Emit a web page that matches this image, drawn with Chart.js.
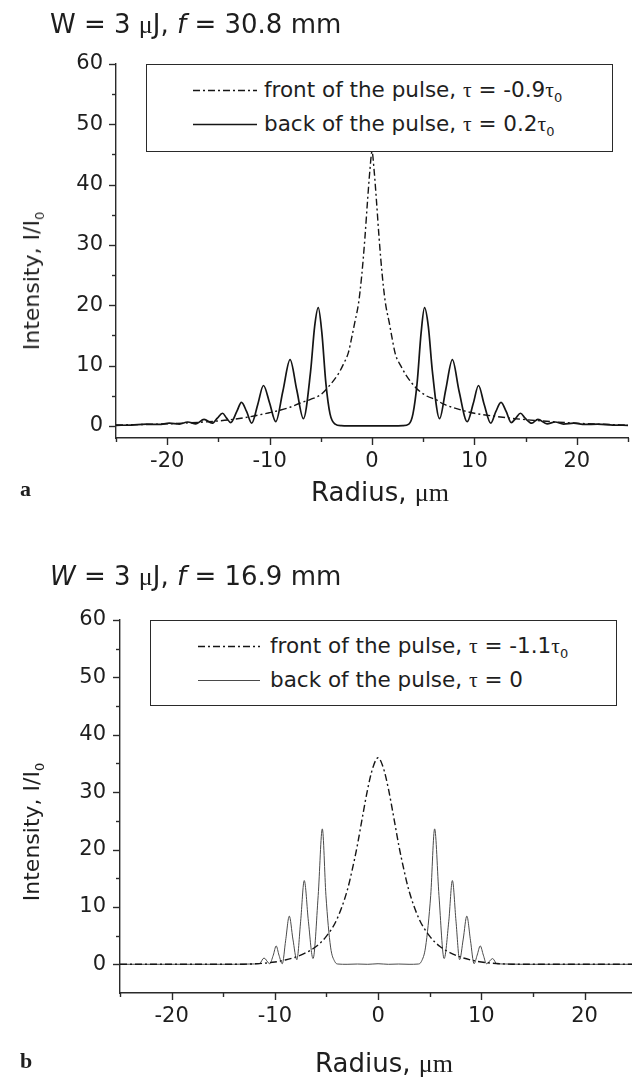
<!DOCTYPE html>
<html><head><meta charset="utf-8">
<script src="https://cdn.jsdelivr.net/npm/chart.js@4.4.0/dist/chart.umd.min.js"></script>
<style>
html,body{margin:0;padding:0;background:#fff;}
body{width:632px;height:1079px;position:relative;overflow:hidden;font-family:"DejaVu Sans",sans-serif;color:#1e1e1e;}
canvas{position:absolute;left:0;}
.t{position:absolute;white-space:nowrap;line-height:1;}
.serif{font-family:"Liberation Serif","DejaVu Serif",serif;}
.legend{position:absolute;border:1.4px solid #2a2a2a;background:#fff;box-sizing:border-box;}
.row{position:absolute;left:0;height:30px;line-height:30px;white-space:nowrap;font-size:21.5px;}
.row svg{position:absolute;top:0;}
.row span.txt{position:absolute;top:0;}
sub{font-size:13px;vertical-align:-5px;line-height:0;}
.ytitle{position:absolute;transform:translate(-50%,-50%) rotate(-90deg);white-space:nowrap;font-size:22px;line-height:1;}
.lab{position:absolute;font-family:"Liberation Serif","DejaVu Serif",serif;font-weight:bold;font-size:22px;line-height:1;}
</style>
</head><body>
<canvas id="cA" width="632" height="520" style="top:0"></canvas>
<canvas id="cB" width="632" height="559" style="top:520px"></canvas>

<div class="t" style="left:50px;top:11px;font-size:26px;">W = 3 <span class="serif">&#956;</span>J, <i>f</i> = 30.8 mm</div>
<div class="t" style="left:50px;top:563px;font-size:26px;"><i>W</i> = 3 <span class="serif">&#956;</span>J, <i>f</i> = 16.9 mm</div>
<div class="lab" style="left:20px;top:478px;">a</div>
<div class="lab" style="left:20px;top:1050px;">b</div>
<div class="t" id="xtA" style="font-size:26px;">Radius, <span class="serif">&#956;m</span></div>
<div class="t" id="xtB" style="font-size:26px;">Radius, <span class="serif">&#956;m</span></div>
<div class="ytitle" style="left:32px;top:281px;">Intensity, I/I<sub>0</sub></div>
<div class="ytitle" style="left:32px;top:832px;">Intensity, I/I<sub>0</sub></div>
<div id="legA" class="legend" style="left:146px;top:64px;width:467px;height:88px;"></div>
<div id="legB" class="legend" style="left:150px;top:620px;width:467px;height:86px;"></div>

<script>
// ---------- data ----------
const xTickLabels = [-20, -10, 0, 10, 20];
const yTickLabels = [0, 10, 20, 30, 40, 50, 60];
const xMinorTicks = [-25, -15, -5, 5, 15, 25];
const yMinorTicks = [5, 15, 25, 35, 45, 55];

const labelFrontA = 'front of the pulse, τ = -0.9τ';
const labelBackA  = 'back of the pulse, τ = 0.2τ';
const labelFrontB = 'front of the pulse, τ = -1.1τ';
const labelBackB  = 'back of the pulse, τ = 0';

// panel a : front of the pulse (dash-dot)
const frontA_x = [-25,-22,-20,-18,-16,-14,-12,-10,-9,-8,-7,-6,-5,-4.3,-3.3,-2.8,-2.3,-2.0,-1.7,-1.3,-1.0,-0.7,-0.45,-0.2,0,
                  0.2,0.45,0.7,1.0,1.3,1.7,2.0,2.3,2.8,3.3,4.3,5.3,6.3,7,8,9,10,12,14,16,18,20,22,25];
const frontA_y = [0.15,0.25,0.35,0.5,0.7,1.0,1.5,2.2,2.6,3.1,3.8,4.4,5.2,6.4,8.6,10.2,12.2,14.5,17,20.5,25,31,37,42.5,45.5,
                  42.5,37,31,25,20.5,17,14.2,11.8,10,8.5,6.3,5,4.3,3.6,3.0,2.5,2.1,1.6,1.2,0.9,0.65,0.45,0.3,0.15];
// panel a : back of the pulse (solid)
const backA_x = [-25,-23.5,-22,-20.8,-19.8,-18.8,-18.0,-17.2,-16.4,-15.6,-15.1,-14.6,-14.2,-13.8,-13.2,-12.75,-12.25,-11.75,-11.15,-10.6,
                 -10.0,-9.4,-8.7,-8.0,-7.35,-6.7,-6.0,-5.6,-5.25,-4.9,-4.5,-4.1,-3.6,-3.0,-1.5,0,
                 1.5,3.0,3.6,4.0,4.4,4.8,5.13,5.5,5.9,6.6,7.2,7.85,8.5,9.3,9.9,10.4,10.95,11.6,12.1,12.6,
                 13.1,13.6,14.05,14.5,14.95,15.6,16.2,17.1,17.9,18.7,19.7,20.8,22,23.5,25];
const backA_y = [0.1,0.15,0.3,0.25,0.45,0.3,0.65,0.35,1.1,0.45,1.3,2.1,1.3,0.55,2.4,3.9,2.4,0.45,3.6,6.7,
                 3.8,0.7,5.8,11,6.0,1.2,9,16.5,19.6,15.5,7,2,0.3,0.05,0,0,
                 0,0.05,0.3,2,7,15.5,19.6,16.5,9,1.2,6.0,11,5.8,0.7,3.8,6.7,3.6,0.45,2.4,3.9,
                 2.4,0.55,1.3,2.1,1.3,0.45,1.1,0.35,0.65,0.3,0.45,0.25,0.3,0.15,0.1];

// panel b : front of the pulse (dash-dot)
const frontB_x = [-25,-20,-15,-13,-12,-11,-10,-9,-8,-7,-6,-5,-4,-3,-2.5,-2,-1.5,-1,-0.5,0,
                  0.5,1,1.5,2,2.5,3,4,5,6,7,8,9,10,11,12,13,15,20,25];
const frontB_y = [0,0,0,0.02,0.08,0.2,0.4,0.75,1.25,2.0,3.1,4.9,7.8,12.8,16.5,20.8,25.8,30.6,34.3,36,
                  34.3,30.6,25.8,20.8,16.5,12.8,7.8,4.9,3.1,2.0,1.25,0.75,0.4,0.2,0.08,0.02,0,0,0];
// panel b : back of the pulse (thin solid)
const backB_x = [-25,-14,-12.5,-11.5,-11.05,-10.5,-10.15,-9.87,-9.6,-9.28,-8.95,-8.6,-8.25,-7.87,-7.5,-7.15,-6.75,-6.3,-5.8,-5.4,
                 -5.05,-4.6,-4.2,-3.9,-3,-2,-1,0,1,2,3,3.9,4.2,4.6,5.1,5.48,5.9,6.4,6.85,7.2,
                 7.55,7.9,8.25,8.6,8.95,9.3,9.6,9.9,10.2,10.5,11.1,11.5,12.5,14,25];
const backB_y = [0,0,0.05,0.1,1.1,0.1,1.6,3.2,1.6,0.1,4.2,8.4,4.4,0.8,7.5,14.6,7.5,1.0,12,23.6,
                 12,3,0.5,0.05,0,0.05,0,0.1,0,0.05,0,0.05,0.5,3,12,23.6,12,1.0,7.5,14.6,
                 7.5,0.8,4.4,8.4,4.2,0.1,1.6,3.2,1.6,0.1,1.0,0.1,0.05,0,0];

// ---------- helpers ----------
const zip = (xs, ys) => xs.map((x, i) => ({x, y: ys[i]}));
const AX = '#2a2a2a';
const TICKFONT = {family: 'DejaVu Sans', size: 21};

const tickMarks = {
  id: 'tickMarks',
  afterDraw(chart) {
    const ctx = chart.ctx, a = chart.chartArea, sx = chart.scales.x, sy = chart.scales.y;
    ctx.save();
    ctx.strokeStyle = AX; ctx.lineWidth = 1.4;
    sx.ticks.forEach(t => {
      const p = Math.round(sx.getPixelForValue(t.value)) + 0.5;
      const len = xTickLabels.includes(t.value) ? 7 : 4;
      ctx.beginPath(); ctx.moveTo(p, a.bottom); ctx.lineTo(p, a.bottom + len); ctx.stroke();
    });
    sy.ticks.forEach(t => {
      const p = Math.round(sy.getPixelForValue(t.value)) + 0.5;
      const len = yTickLabels.includes(t.value) ? 7 : 4;
      ctx.beginPath(); ctx.moveTo(a.left, p); ctx.lineTo(a.left - len, p); ctx.stroke();
    });
    ctx.restore();
  }
};

function tickList(major, minor, lo, hi) {
  return major.concat(minor).filter(v => v >= lo - 1e-9 && v <= hi + 1e-9)
    .sort((a, b) => a - b).map(v => ({value: v}));
}

function makeChart(id, cfg) {
  return new Chart(document.getElementById(id), {
    type: 'line',
    data: {datasets: cfg.datasets},
    options: {
      responsive: false, animation: false, devicePixelRatio: 1,
      layout: {padding: {top: cfg.padTop, left: 0, right: 0, bottom: 0}},
      plugins: {legend: {display: false}, tooltip: {enabled: false}},
      elements: {point: {radius: 0}, line: {cubicInterpolationMode: 'monotone'}},
      scales: {
        x: {
          type: 'linear', min: -25, max: cfg.xMax,
          afterBuildTicks: s => { s.ticks = tickList(xTickLabels, xMinorTicks, -25, cfg.xMax); },
          afterFit: s => { s.height = cfg.xHeight; },
          ticks: {autoSkip: false, maxRotation: 0, padding: 4, color: '#1e1e1e', font: TICKFONT,
                  callback: v => xTickLabels.includes(v) ? String(v) : ''},
          grid: {display: false, drawTicks: true, tickLength: 7},
          border: {display: true, color: AX, width: 1.4}
        },
        y: {
          type: 'linear', min: cfg.yMin, max: 60,
          afterBuildTicks: s => { s.ticks = tickList(yTickLabels, yMinorTicks, cfg.yMin, 60); },
          afterFit: s => { s.width = cfg.yWidth; },
          ticks: {autoSkip: false, padding: cfg.yPad, color: '#1e1e1e', font: TICKFONT,
                  callback: v => yTickLabels.includes(v) ? String(v) : ''},
          grid: {display: false, drawTicks: true, tickLength: 7},
          border: {display: true, color: AX, width: 1.4}
        }
      }
    },
    plugins: [tickMarks]
  });
}

const dashFront = [7, 3, 2, 3];
const dsA = [
  {label: labelFrontA, data: zip(frontA_x, frontA_y), borderColor: '#151515', borderWidth: 1.4, borderDash: dashFront, fill: false},
  {label: labelBackA, data: zip(backA_x, backA_y), borderColor: '#151515', borderWidth: 1.7, borderDash: [], fill: false}
];
const dsB = [
  {label: labelFrontB, data: zip(frontB_x, frontB_y), borderColor: '#151515', borderWidth: 1.4, borderDash: dashFront, fill: false},
  {label: labelBackB, data: zip(backB_x, backB_y), borderColor: '#4a4a4a', borderWidth: 1.0, borderDash: [], fill: false}
];

const chA = makeChart('cA', {datasets: dsA, padTop: 64, xMax: 25, yMin: -2, xHeight: 82, yWidth: 116, yPad: 6});
const chB = makeChart('cB', {datasets: dsB, padTop: 100, xMax: 24.6, yMin: -5, xHeight: 86, yWidth: 120, yPad: 7});

// ---------- legends (HTML, built from the datasets) ----------
function buildLegend(el, datasets, rows, sampleX0, sampleX1, textX) {
  datasets.forEach((ds, i) => {
    const r = document.createElement('div');
    r.className = 'row';
    r.style.top = (rows[i] - 15) + 'px';
    r.style.width = '100%';
    const w = sampleX1 - sampleX0;
    r.innerHTML = `<svg width="${w}" height="30" style="left:${sampleX0}px"><line x1="0" y1="15.5" x2="${w}" y2="15.5" stroke="${ds.borderColor}" stroke-width="${ds.borderWidth}" stroke-dasharray="${(ds.borderDash || []).join(' ')}"/></svg>` +
      `<span class="txt" style="left:${textX}px">${ds.label.replace(/τ/g, '<span class="serif">τ</span>')}${/τ$/.test(ds.label) ? '<sub>0</sub>' : ''}</span>`;
    el.appendChild(r);
  });
}
buildLegend(document.getElementById('legA'), dsA, [25, 59], 46, 110, 117);
buildLegend(document.getElementById('legB'), dsB, [25, 59], 47, 109, 119);

// ---------- axis titles centred under the plot ----------
function placeX(el, chart, cy) {
  const a = chart.chartArea;
  const cx = (a.left + a.right) / 2 + 8;
  el.style.left = (cx - el.offsetWidth / 2) + 'px';
  el.style.top = (cy - 13) + 'px';
}
placeX(document.getElementById('xtA'), chA, 492);
placeX(document.getElementById('xtB'), chB, 1063);
</script>
</body></html>
